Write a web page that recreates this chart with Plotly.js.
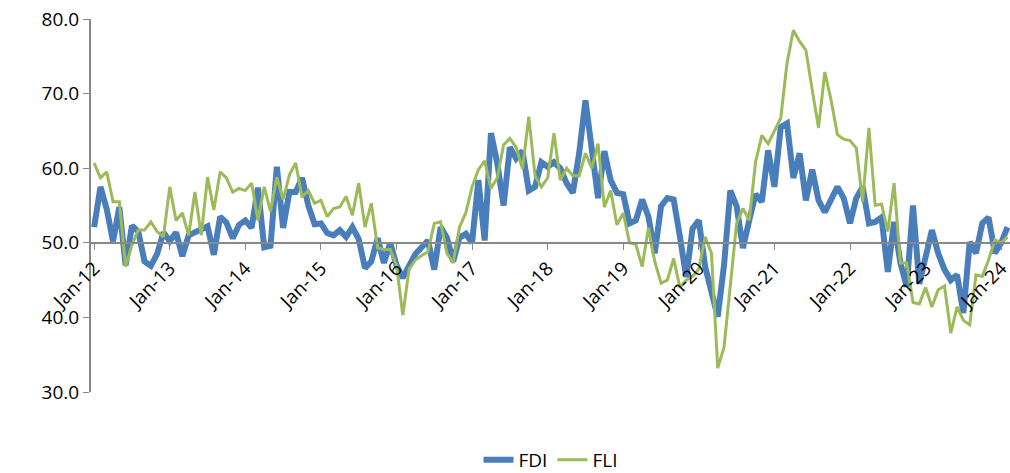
<!DOCTYPE html>
<html>
<head>
<meta charset="utf-8">
<script src="https://cdn.plot.ly/plotly-3.0.1.min.js"></script>
<style>body{margin:0;background:#fff}#chart{width:1010px;height:473px}</style>
</head>
<body>
<div id="chart"></div>
<script>
"use strict"
// monthly values Jan-12 .. Feb-24
var fdi = [
    52.1, 57.5, 54.5, 50.2, 54.8, 47.0, 52.3, 51.5, 47.5, 46.9, 48.5, 51.4,
    50.2, 51.4, 48.2, 51.0, 51.4, 51.8, 52.2, 48.4, 53.5, 52.7, 50.6, 52.4,
    53.0, 52.0, 57.4, 49.4, 49.6, 60.2, 52.0, 56.8, 56.8, 58.7, 55.0, 52.5,
    52.6, 51.3, 51.0, 51.7, 50.8, 52.1, 50.5, 46.6, 47.5, 50.6, 47.3, 50.0,
    47.0, 45.3, 47.1, 48.5, 49.4, 50.3, 46.4, 52.1, 50.7, 47.5, 50.7, 51.2,
    50.0, 58.4, 50.3, 64.7, 60.7, 55.0, 62.8, 61.3, 62.3, 57.0, 57.5, 60.8,
    60.2, 60.8, 60.0, 58.0, 56.7, 62.0, 69.1, 62.0, 56.0, 62.3, 58.4, 56.7,
    56.5, 52.6, 53.0, 55.8, 53.5, 48.6, 54.9, 56.0, 55.8, 50.8, 45.4, 51.9,
    53.0, 46.8, 43.5, 40.1, 47.0, 57.0, 54.9, 49.3, 53.0, 56.5, 55.5, 62.4,
    57.5, 65.5, 66.0, 58.7, 62.0, 55.7, 59.8, 55.7, 54.1, 56.0, 57.5, 56.0,
    52.6, 56.0, 57.5, 52.6, 52.8, 53.4, 46.1, 52.8, 47.3, 44.1, 55.0, 44.5,
    48.6, 51.7, 48.6, 46.4, 45.0, 45.7, 40.6, 50.1, 48.6, 52.6, 53.4, 48.6,
    50.0, 52.1
];
var fli = [
    60.7, 58.7, 59.5, 55.5, 55.5, 46.8, 49.7, 51.7, 51.7, 52.8, 51.5, 50.8,
    57.5, 53.0, 54.0, 51.0, 56.8, 51.0, 58.8, 54.4, 59.5, 58.7, 56.8, 57.3,
    57.0, 58.0, 53.0, 57.5, 54.2, 58.8, 55.8, 59.1, 60.7, 56.1, 57.0, 55.3,
    55.7, 53.5, 54.6, 54.8, 56.2, 53.7, 58.0, 52.1, 55.3, 49.3, 49.1, 49.1,
    47.0, 40.3, 46.5, 47.7, 48.3, 48.8, 52.6, 52.8, 48.6, 47.3, 52.1, 54.0,
    57.5, 59.8, 61.0, 57.3, 58.7, 63.1, 64.0, 62.8, 59.9, 66.9, 59.0, 57.5,
    58.7, 64.7, 58.4, 60.0, 59.0, 59.0, 62.0, 60.0, 63.3, 54.8, 57.0, 52.4,
    54.0, 50.0, 49.8, 46.8, 52.0, 47.5, 44.6, 45.0, 47.9, 44.0, 45.0, 45.5,
    46.5, 50.8, 48.6, 33.2, 36.0, 44.2, 52.6, 54.6, 53.0, 60.8, 64.4, 63.3,
    65.0, 66.7, 74.1, 78.5, 77.0, 75.8, 70.5, 65.4, 72.9, 69.1, 64.5, 63.9,
    63.7, 62.7, 55.5, 65.4, 55.0, 55.2, 51.5, 58.0, 47.3, 47.3, 42.0, 41.8,
    44.0, 41.4, 43.7, 44.2, 37.9, 41.4, 39.6, 39.0, 45.7, 45.5, 47.7, 50.4,
    50.0, 50.8
];
var monthNames = ['Jan', 'Feb', 'Mar', 'Apr', 'May', 'Jun', 'Jul', 'Aug', 'Sep', 'Oct', 'Nov', 'Dec'];

let months = [];
for (let i = 0; i < fdi.length; i++) {
    let yy = 12 + Math.floor(i / 12);
    months.push(monthNames[i % 12] + '-' + yy);
}
let yearTicks = months.filter((m) => m.startsWith('Jan'));

var traceFdi = {
    x: months, y: fdi, name: 'FDI', type: 'scatter', mode: 'lines',
    line: { color: '#4a7ebb', width: 6 }
};
var traceFli = {
    x: months, y: fli, name: 'FLI', type: 'scatter', mode: 'lines',
    line: { color: '#9bbb59', width: 3 }
};

var layout = {
    width: 1010, height: 473,
    margin: { l: 91, r: 0, t: 19, b: 81, autoexpand: false },
    paper_bgcolor: '#fff', plot_bgcolor: '#fff',
    font: { family: 'Open Sans, Liberation Sans, sans-serif', size: 19, color: '#000' },
    showlegend: true,
    legend: { orientation: 'h', x: 0.5, xanchor: 'center', y: -0.182, yanchor: 'middle', font: { size: 19 } },
    xaxis: {
        type: 'category', range: [-0.5, 145.4],
        anchor: 'free', position: 0.4,
        tickvals: yearTicks, ticktext: yearTicks, tickangle: -45,
        ticks: 'outside', ticklen: 6, tickcolor: '#888',
        showline: true, linecolor: '#888', linewidth: 2,
        showgrid: false, zeroline: false
    },
    yaxis: {
        range: [30, 80], dtick: 10, tickformat: '.1f',
        ticks: 'outside', ticklen: 6, tickcolor: '#888',
        showline: true, linecolor: '#888', linewidth: 2,
        showgrid: false, zeroline: false
    }
};

Plotly.newPlot('chart', [traceFdi, traceFli], layout, { displayModeBar: false });
</script>
</body>
</html>
